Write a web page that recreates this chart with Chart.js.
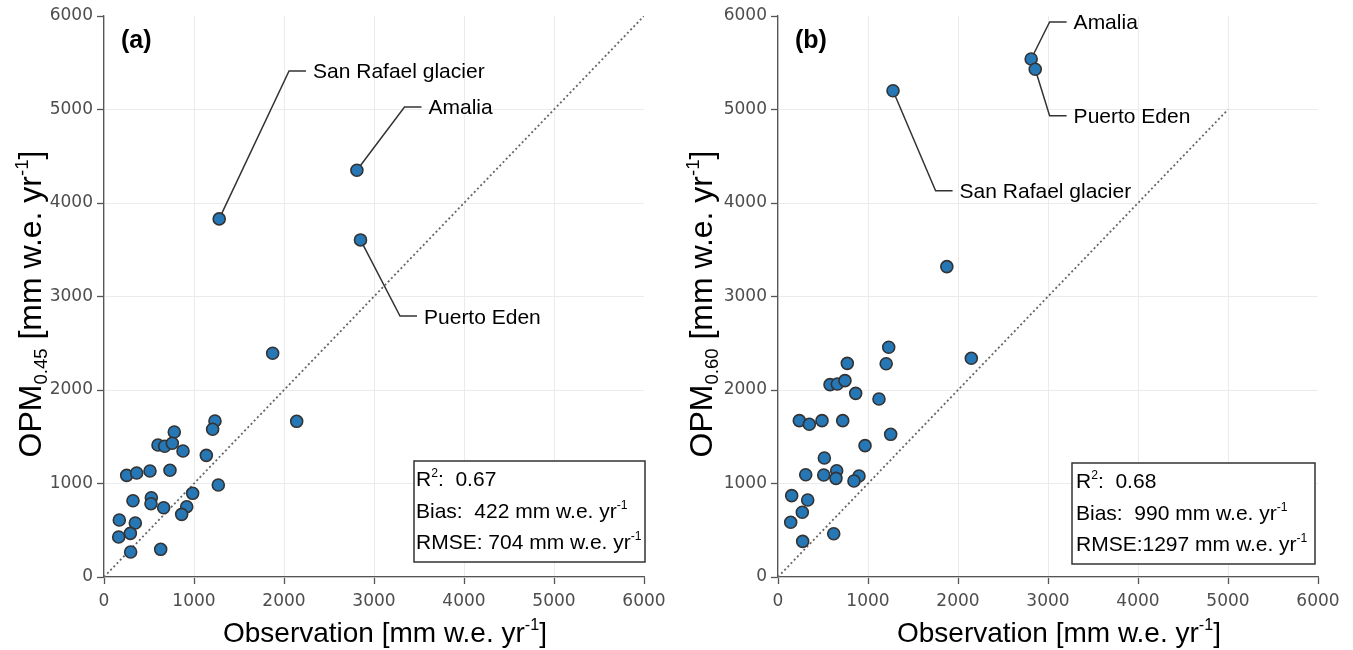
<!DOCTYPE html>
<html lang="en">
<head>
<meta charset="UTF-8">
<title>OPM vs observation</title>
<script src="https://cdn.jsdelivr.net/npm/chart.js"></script>
<style>
  body { margin: 0; background: #fff; }
  .panel { position: absolute; top: 0; height: 650px; }
  #panelA { left: 0; width: 676px; }
  #panelB { left: 674px; width: 679px; }
</style>
</head>
<body>
<div class="panel" id="panelA"><canvas id="chartA"></canvas></div>
<div class="panel" id="panelB"><canvas id="chartB"></canvas></div>
<script>
  // axis ticks (mm w.e. yr-1)
  const tickValues = [0, 1000, 2000, 3000, 4000, 5000, 6000];

  // (a) OPM 0.45 : observation vs model, last three are the named sites
  const obsA = [1874, 2141, 1233, 1207, 781, 600, 674, 759, 878, 1137, 252, 363, 511, 733, 1270, 985,
                526, 522, 322, 663, 919, 863, 170, 348, 163, 293, 296, 630, 1280, 2810, 2850];
  const opmA = [2393, 1665, 1668, 1580, 1551, 1412, 1398, 1430, 1348, 1301, 1087, 1112, 1134, 1141, 984, 895,
                848, 784, 816, 741, 752, 670, 610, 578, 428, 467, 267, 296, 3830, 4350, 3605];

  // (b) OPM 0.60
  const obsB = [578, 659, 744, 863, 1122, 237, 348, 489, 719, 1252, 967, 515, 652, 308, 508, 644,
                900, 844, 152, 330, 270, 141, 619, 274, 1876, 1230, 770, 1202, 2148, 1278, 2813, 2858];
  const opmB = [2057, 2064, 2100, 1964, 1904, 1672, 1633, 1672, 1672, 1526, 1405, 1273, 1137, 1094, 1091, 1055,
                1080, 1027, 870, 823, 692, 585, 463, 381, 3319, 2457, 2285, 2281, 2339, 5201, 5540, 5430];

  // 1:1 lines
  const diagA = [0, 6000];
  const diagB = [0, 5000];

  const siteNames = ['San Rafael glacier', 'Amalia', 'Puerto Eden'];

  // stats: R2, bias, rmse
  const statsA = ['0.67', '422', '704'];
  const statsB = ['0.68', '990', '1297'];

  const SANS = '"Liberation Sans", Arial, Helvetica, sans-serif';
  const TICKFONT = '"DejaVu Sans", Verdana, sans-serif';

  function toXY(xs, ys) {
    return xs.map((x, i) => ({ x: x, y: ys[i] }));
  }

  // text with sub/superscripts: parts = [[text, 'n'|'sup'|'sub'], ...]
  function partFont(kind, size, weight) {
    const s = kind === 'n' ? size : size * 0.58;
    return (weight || 'normal') + ' ' + s + 'px ' + SANS;
  }
  function richWidth(ctx, parts, size, weight) {
    let w = 0;
    parts.forEach(p => { ctx.font = partFont(p[1], size, weight); w += ctx.measureText(p[0]).width; });
    return w;
  }
  function drawRich(ctx, parts, x, y, size, align, weight) {
    let cx = align === 'center' ? x - richWidth(ctx, parts, size, weight) / 2 : x;
    ctx.textAlign = 'left';
    ctx.textBaseline = 'alphabetic';
    parts.forEach(p => {
      ctx.font = partFont(p[1], size, weight);
      let dy = 0;
      if (p[1] === 'sup') dy = -size * 0.42;
      if (p[1] === 'sub') dy = size * 0.2;
      ctx.fillText(p[0], cx, y + dy);
      cx += ctx.measureText(p[0]).width;
    });
  }

  const unitParts = [[' [mm w.e. yr', 'n'], ['-1', 'sup'], [']', 'n']];

  function decorations(cfg) {
    return {
      id: 'deco' + cfg.tag,
      beforeDatasetsDraw(chart) {
        const ctx = chart.ctx, xs = chart.scales.x, ys = chart.scales.y;
        const pts = chart.data.datasets[0].data;
        ctx.save();
        ctx.strokeStyle = '#333';
        ctx.lineWidth = 1.5;
        cfg.notes.forEach(n => {
          const p = pts[n.i];
          const ex = xs.getPixelForValue(n.ex), ey = ys.getPixelForValue(n.ey);
          ctx.beginPath();
          ctx.moveTo(xs.getPixelForValue(p.x), ys.getPixelForValue(p.y));
          ctx.lineTo(ex, ey);
          ctx.lineTo(ex + 17, ey);
          ctx.stroke();
        });
        ctx.restore();
      },
      afterDraw(chart) {
        const ctx = chart.ctx, xs = chart.scales.x, ys = chart.scales.y;
        const area = chart.chartArea;
        ctx.save();
        ctx.fillStyle = '#000';

        // site labels
        cfg.notes.forEach(n => {
          const ex = xs.getPixelForValue(n.ex), ey = ys.getPixelForValue(n.ey);
          drawRich(ctx, [[siteNames[n.name], 'n']], ex + 24, ey + 7.5, 21, 'left');
        });

        // panel letter
        drawRich(ctx, [[cfg.letter, 'n']], area.left + 17, 48, 25, 'left', 'bold');

        // axis titles
        drawRich(ctx, [['Observation', 'n']].concat(unitParts), cfg.xTitleX, 642, 28, 'center');
        ctx.save();
        ctx.translate(cfg.yTitleX, 304);
        ctx.rotate(-Math.PI / 2);
        drawRich(ctx, [['OPM', 'n'], [cfg.sub, 'sub']].concat(unitParts), 0, 0, 32, 'center');
        ctx.restore();

        // stats box
        const b = cfg.box;
        ctx.fillStyle = '#fff';
        ctx.fillRect(b.left, b.top, b.w, b.h);
        ctx.strokeStyle = '#333';
        ctx.lineWidth = 1.5;
        ctx.strokeRect(b.left, b.top, b.w, b.h);
        ctx.fillStyle = '#000';
        const st = cfg.stats;
        const tx = b.left + b.pad;
        drawRich(ctx, [['R', 'n'], ['2', 'sup'], [':  ' + st[0], 'n']], tx, b.top + 25, 21, 'left');
        drawRich(ctx, [['Bias:  ' + st[1] + ' mm w.e. yr', 'n'], ['-1', 'sup']], tx, b.top + 57, 21, 'left');
        drawRich(ctx, [['RMSE:' + (st[2].length < 4 ? ' ' : '') + st[2] + ' mm w.e. yr', 'n'], ['-1', 'sup']],
                 tx, b.top + 88, 21, 'left');
        ctx.restore();
      }
    };
  }

  function axis(side) {
    return {
      type: 'linear',
      min: 0,
      max: 6000,
      afterBuildTicks: s => { s.ticks = tickValues.map(v => ({ value: v })); },
      afterFit: s => { if (side === 'x') s.height = 73; else s.width = 104; },
      ticks: {
        font: { family: TICKFONT, size: 17 },
        color: '#4d4d4d',
        padding: side === 'x' ? 7 : 4,
        callback: v => String(v)
      },
      grid: {
        color: c => (c.tick && c.tick.value === 6000) ? 'rgba(0,0,0,0)' : '#ebebeb',
        lineWidth: 1,
        tickColor: '#555',
        tickLength: 7,
        tickWidth: 1.3
      },
      border: { color: '#555', width: 1.3 }
    };
  }

  function makeChart(id, xs, ys, diag, cfg) {
    return new Chart(document.getElementById(id), {
      type: 'scatter',
      data: {
        datasets: [
          {
            data: toXY(xs, ys),
            backgroundColor: '#2677b6',
            borderColor: '#333',
            borderWidth: 1.6,
            pointRadius: 6,
            order: 0
          },
          {
            data: toXY(diag, diag),
            showLine: true,
            borderColor: '#666',
            borderWidth: 1.8,
            borderDash: [2, 2.6],
            pointRadius: 0,
            order: 1
          }
        ]
      },
      options: {
        responsive: true,
        maintainAspectRatio: false,
        animation: false,
        layout: { padding: { left: 0, right: cfg.padRight, top: 16, bottom: 0 } },
        plugins: { legend: { display: false }, tooltip: { enabled: false } },
        scales: { x: axis('x'), y: axis('y') }
      },
      plugins: [decorations(cfg)]
    });
  }

  makeChart('chartA', obsA, opmA, diagA, {
    tag: 'A', letter: '(a)', sub: '0.45', padRight: 32,
    xTitleX: 385, yTitleX: 41,
    notes: [
      { i: 28, name: 0, ex: 2056, ey: 5412 },
      { i: 29, name: 1, ex: 3339, ey: 5027 },
      { i: 30, name: 2, ex: 3289, ey: 2791 }
    ],
    stats: statsA,
    box: { left: 414, top: 461, w: 231, h: 101, pad: 2 }
  });

  makeChart('chartB', obsB, opmB, diagB, {
    tag: 'B', letter: '(b)', sub: '0.60', padRight: 35,
    xTitleX: 385, yTitleX: 38,
    notes: [
      { i: 29, name: 0, ex: 1751, ey: 4131 },
      { i: 30, name: 1, ex: 3018, ey: 5936 },
      { i: 31, name: 2, ex: 3018, ey: 4934 }
    ],
    stats: statsB,
    box: { left: 398, top: 463, w: 243, h: 101, pad: 4 }
  });
</script>
</body>
</html>
